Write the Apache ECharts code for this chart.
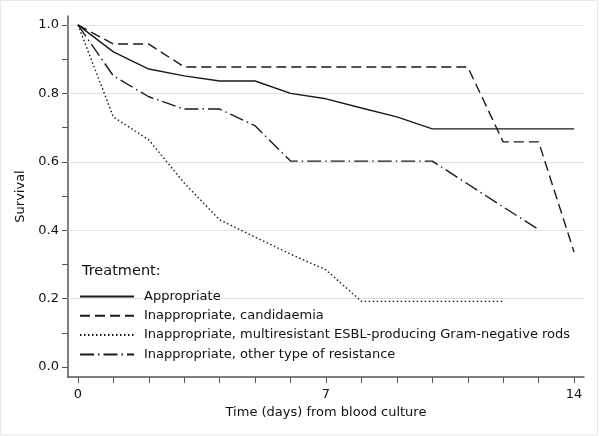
<!DOCTYPE html>
<html>
<head>
<meta charset="utf-8">
<script src="https://cdn.jsdelivr.net/npm/echarts@6/dist/echarts.min.js"></script>
<style>html,body{margin:0;padding:0;background:#fff}#c{width:600px;height:436px}</style>
</head>
<body>
<div id="c"></div>
<script>
const seriesNames = [
  'Appropriate',
  'Inappropriate, candidaemia',
  'Inappropriate, multiresistant ESBL-producing Gram-negative rods',
  'Inappropriate, other type of resistance'
];
const days = [0,1,2,3,4,5,6,7,8,9,10,11,12,13,14];
const appropriate = [1.0,0.921,0.871,0.851,0.836,0.836,0.800,0.784,0.757,0.731,0.696,0.696,0.696,0.696,0.696];
const candidaemia = [1.0,0.944,0.944,0.877,0.877,0.877,0.877,0.877,0.877,0.877,0.877,0.877,0.658,0.658,0.336];
const multiresistant = [1.0,0.731,0.664,0.538,0.430,0.380,0.330,0.284,0.192,0.192,0.192,0.192,0.192];
const otherResistance = [1.0,0.851,0.790,0.754,0.754,0.705,0.602,0.602,0.602,0.602,0.602,0.535,0.468,0.402];
const xTicks = [0,1,2,3,4,5,6,7,8,9,10,11,12,13,14];
const xLabels = [0,7,14];
const yTicks = [0,0.1,0.2,0.3,0.4,0.5,0.6,0.7,0.8,0.9,1.0];
const yLabels = [0,0.2,0.4,0.6,0.8,1.0];
const gridValues = [0.2,0.4,0.6,0.8,1.0];

const pairs = arr => arr.map((v, i) => [days[i], v]);
const FONT = 'DejaVu Sans';
const dashes = ['solid', [10, 5], [1.5, 2.5], [14, 4, 1.5, 4]];
const dataSets = [appropriate, candidaemia, multiresistant, otherResistance];

const series = dataSets.map((d, i) => ({
  name: seriesNames[i],
  type: 'line',
  data: pairs(d),
  symbol: 'none',
  showSymbol: false,
  z: 3,
  silent: true,
  lineStyle: { color: '#1a1a1a', width: 1.4, type: dashes[i] },
  itemStyle: { color: '#1a1a1a' },
  animation: false
}));
series.push({
  type: 'line',
  data: [],
  silent: true,
  markLine: {
    z: 1,
    silent: true,
    symbol: 'none',
    label: { show: false },
    lineStyle: { color: '#e2e2e2', width: 1, type: 'solid' },
    data: gridValues.map(v => ({ yAxis: v })),
    animation: false
  }
});

const chart = echarts.init(document.getElementById('c'), null, { renderer: 'canvas' });
chart.setOption({
  animation: false,
  backgroundColor: '#fff',
  grid: { left: 68, right: 16, top: 16, bottom: 59, containLabel: false },
  graphic: [
    { type: 'rect', shape: { x: 0.5, y: 0.5, width: 597, height: 434.5 }, style: { fill: 'none', stroke: '#e8e8e8', lineWidth: 1 }, z: 0, silent: true },
    { type: 'text', left: 82, top: 264, style: { text: 'Treatment:', font: '14.5px "DejaVu Sans"', fill: '#111' }, z: 10 }
  ],
  legend: {
    data: seriesNames,
    orient: 'vertical',
    left: 79,
    top: 290,
    itemWidth: 54,
    itemHeight: 14,
    itemGap: 6.3,
    padding: 0,
    itemStyle: { opacity: 0 },
    textStyle: { fontFamily: FONT, fontSize: 13, color: '#111', padding: [0, 0, 0, 5] },
    selectedMode: false
  },
  xAxis: {
    type: 'value',
    min: -0.28,
    max: 14.28,
    name: 'Time (days) from blood culture',
    nameLocation: 'middle',
    nameGap: 25,
    nameTextStyle: { fontFamily: FONT, fontSize: 13, color: '#111' },
    axisLine: { show: true, onZero: false, lineStyle: { color: '#555', width: 1.5 } },
    axisTick: { show: true, customValues: xTicks, length: 6, inside: false, lineStyle: { color: '#555', width: 1 } },
    axisLabel: { customValues: xLabels, margin: 11, fontFamily: FONT, fontSize: 13, color: '#111' },
    splitLine: { show: false }
  },
  yAxis: {
    type: 'value',
    min: -0.029,
    max: 1.026,
    name: 'Survival',
    nameLocation: 'middle',
    nameGap: 38,
    nameTextStyle: { fontFamily: FONT, fontSize: 13, color: '#111' },
    axisLine: { show: true, onZero: false, lineStyle: { color: '#555', width: 1.5 } },
    axisTick: { show: true, customValues: yTicks, length: 6, lineStyle: { color: '#555', width: 1 } },
    axisLabel: { customValues: yLabels, margin: 9, fontFamily: FONT, fontSize: 13, color: '#111', formatter: v => v.toFixed(1) },
    splitLine: { show: false }
  },
  series: series
});
</script>
</body>
</html>
